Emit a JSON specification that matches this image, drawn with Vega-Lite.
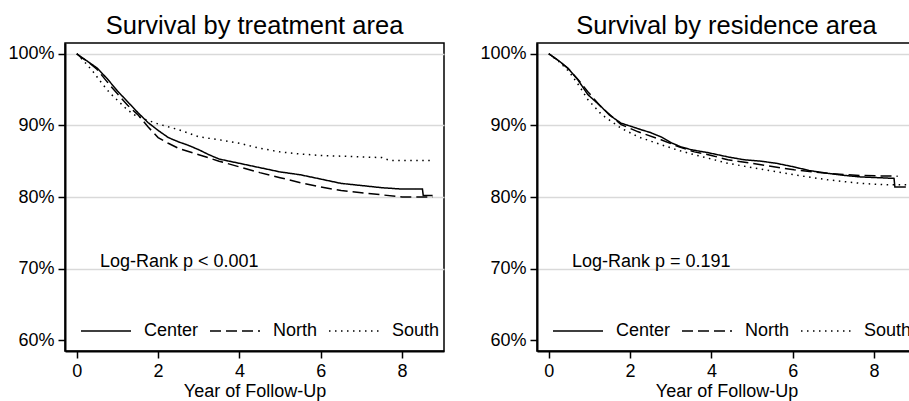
{
  "$schema": "https://vega.github.io/schema/vega-lite/v6.json",
  "padding": {"left": 7, "top": 12, "right": 0, "bottom": 0},
  "spacing": 34,
  "config": {
    "font": "Liberation Sans",
    "view": {"stroke": "black", "strokeWidth": 1.5},
    "axis": {
      "labelFontSize": 18, "titleFontSize": 18, "labelColor": "black", "titleColor": "black",
      "titleFontWeight": "normal", "domainColor": "black", "domainWidth": 2,
      "tickColor": "black", "tickWidth": 1.5, "tickSize": 7, "labelFont": "Liberation Sans", "titleFont": "Liberation Sans"
    },
    "title": {"fontSize": 25.5, "fontWeight": "normal", "color": "black", "font": "Liberation Sans", "offset": 4}
  },
  "datasets": {
    "treat": [
      {"t": 0, "s": 100, "g": "Center"}, {"t": 0.1, "s": 99.5, "g": "Center"}, {"t": 0.25, "s": 99.0, "g": "Center"}, {"t": 0.5, "s": 98.0, "g": "Center"}, {"t": 0.75, "s": 96.5, "g": "Center"}, {"t": 1.0, "s": 94.8, "g": "Center"}, {"t": 1.25, "s": 93.3, "g": "Center"}, {"t": 1.5, "s": 91.8, "g": "Center"}, {"t": 1.75, "s": 90.4, "g": "Center"}, {"t": 2.0, "s": 89.3, "g": "Center"}, {"t": 2.25, "s": 88.3, "g": "Center"}, {"t": 2.5, "s": 87.7, "g": "Center"}, {"t": 2.75, "s": 87.2, "g": "Center"}, {"t": 3.0, "s": 86.6, "g": "Center"}, {"t": 3.25, "s": 85.9, "g": "Center"}, {"t": 3.5, "s": 85.3, "g": "Center"}, {"t": 3.75, "s": 85.0, "g": "Center"}, {"t": 4.0, "s": 84.7, "g": "Center"}, {"t": 4.5, "s": 84.1, "g": "Center"}, {"t": 5.0, "s": 83.5, "g": "Center"}, {"t": 5.5, "s": 83.1, "g": "Center"}, {"t": 6.0, "s": 82.5, "g": "Center"}, {"t": 6.5, "s": 81.9, "g": "Center"}, {"t": 7.0, "s": 81.6, "g": "Center"}, {"t": 7.5, "s": 81.3, "g": "Center"}, {"t": 8.0, "s": 81.1, "g": "Center"}, {"t": 8.5, "s": 81.1, "g": "Center"}, {"t": 8.52, "s": 80.2, "g": "Center"}, {"t": 8.75, "s": 80.2, "g": "Center"},
      {"t": 0, "s": 100, "g": "North"}, {"t": 0.25, "s": 99.0, "g": "North"}, {"t": 0.5, "s": 97.8, "g": "North"}, {"t": 0.8, "s": 95.7, "g": "North"}, {"t": 1.0, "s": 94.4, "g": "North"}, {"t": 1.25, "s": 92.8, "g": "North"}, {"t": 1.5, "s": 91.5, "g": "North"}, {"t": 1.75, "s": 89.8, "g": "North"}, {"t": 2.0, "s": 88.3, "g": "North"}, {"t": 2.25, "s": 87.5, "g": "North"}, {"t": 2.5, "s": 86.8, "g": "North"}, {"t": 3.0, "s": 85.9, "g": "North"}, {"t": 3.5, "s": 85.0, "g": "North"}, {"t": 4.0, "s": 84.2, "g": "North"}, {"t": 4.5, "s": 83.4, "g": "North"}, {"t": 5.0, "s": 82.7, "g": "North"}, {"t": 5.5, "s": 82.0, "g": "North"}, {"t": 6.0, "s": 81.4, "g": "North"}, {"t": 6.5, "s": 80.9, "g": "North"}, {"t": 7.0, "s": 80.6, "g": "North"}, {"t": 7.5, "s": 80.3, "g": "North"}, {"t": 8.0, "s": 80.0, "g": "North"}, {"t": 8.75, "s": 80.0, "g": "North"},
      {"t": 0, "s": 100, "g": "South"}, {"t": 0.2, "s": 98.8, "g": "South"}, {"t": 0.4, "s": 97.5, "g": "South"}, {"t": 0.6, "s": 96.0, "g": "South"}, {"t": 0.8, "s": 94.6, "g": "South"}, {"t": 1.0, "s": 93.5, "g": "South"}, {"t": 1.2, "s": 92.4, "g": "South"}, {"t": 1.4, "s": 91.5, "g": "South"}, {"t": 1.7, "s": 90.8, "g": "South"}, {"t": 2.0, "s": 90.2, "g": "South"}, {"t": 2.5, "s": 89.4, "g": "South"}, {"t": 3.0, "s": 88.4, "g": "South"}, {"t": 3.5, "s": 88.0, "g": "South"}, {"t": 4.0, "s": 87.5, "g": "South"}, {"t": 4.5, "s": 86.8, "g": "South"}, {"t": 5.0, "s": 86.3, "g": "South"}, {"t": 5.5, "s": 86.0, "g": "South"}, {"t": 6.0, "s": 85.8, "g": "South"}, {"t": 6.5, "s": 85.7, "g": "South"}, {"t": 7.0, "s": 85.6, "g": "South"}, {"t": 7.5, "s": 85.5, "g": "South"}, {"t": 7.7, "s": 85.1, "g": "South"}, {"t": 8.75, "s": 85.1, "g": "South"}
    ],
    "resid": [
      {"t": 0, "s": 100, "g": "Center"}, {"t": 0.25, "s": 99.0, "g": "Center"}, {"t": 0.47, "s": 98.0, "g": "Center"}, {"t": 0.71, "s": 96.4, "g": "Center"}, {"t": 0.96, "s": 94.3, "g": "Center"}, {"t": 1.29, "s": 92.6, "g": "Center"}, {"t": 1.5, "s": 91.4, "g": "Center"}, {"t": 1.78, "s": 90.3, "g": "Center"}, {"t": 2.0, "s": 89.9, "g": "Center"}, {"t": 2.27, "s": 89.4, "g": "Center"}, {"t": 2.5, "s": 89.0, "g": "Center"}, {"t": 2.76, "s": 88.4, "g": "Center"}, {"t": 3.0, "s": 87.6, "g": "Center"}, {"t": 3.25, "s": 87.0, "g": "Center"}, {"t": 3.5, "s": 86.6, "g": "Center"}, {"t": 3.91, "s": 86.2, "g": "Center"}, {"t": 4.4, "s": 85.6, "g": "Center"}, {"t": 4.8, "s": 85.2, "g": "Center"}, {"t": 5.22, "s": 85.0, "g": "Center"}, {"t": 5.6, "s": 84.7, "g": "Center"}, {"t": 6.03, "s": 84.2, "g": "Center"}, {"t": 6.4, "s": 83.7, "g": "Center"}, {"t": 6.86, "s": 83.3, "g": "Center"}, {"t": 7.3, "s": 83.0, "g": "Center"}, {"t": 7.67, "s": 82.8, "g": "Center"}, {"t": 8.1, "s": 82.7, "g": "Center"}, {"t": 8.49, "s": 82.6, "g": "Center"}, {"t": 8.51, "s": 81.4, "g": "Center"}, {"t": 8.78, "s": 81.4, "g": "Center"},
      {"t": 0, "s": 100, "g": "North"}, {"t": 0.25, "s": 99.0, "g": "North"}, {"t": 0.5, "s": 97.8, "g": "North"}, {"t": 0.75, "s": 96.2, "g": "North"}, {"t": 0.96, "s": 94.7, "g": "North"}, {"t": 1.3, "s": 92.5, "g": "North"}, {"t": 1.78, "s": 90.1, "g": "North"}, {"t": 2.2, "s": 89.1, "g": "North"}, {"t": 2.76, "s": 88.0, "g": "North"}, {"t": 3.2, "s": 87.0, "g": "North"}, {"t": 3.58, "s": 86.3, "g": "North"}, {"t": 4.0, "s": 85.8, "g": "North"}, {"t": 4.4, "s": 85.2, "g": "North"}, {"t": 5.22, "s": 84.5, "g": "North"}, {"t": 6.03, "s": 83.8, "g": "North"}, {"t": 6.86, "s": 83.3, "g": "North"}, {"t": 7.67, "s": 83.0, "g": "North"}, {"t": 8.58, "s": 82.9, "g": "North"},
      {"t": 0, "s": 100, "g": "South"}, {"t": 0.25, "s": 98.9, "g": "South"}, {"t": 0.5, "s": 97.5, "g": "South"}, {"t": 0.75, "s": 95.5, "g": "South"}, {"t": 0.96, "s": 93.6, "g": "South"}, {"t": 1.3, "s": 91.5, "g": "South"}, {"t": 1.78, "s": 89.6, "g": "South"}, {"t": 2.2, "s": 88.4, "g": "South"}, {"t": 2.76, "s": 87.3, "g": "South"}, {"t": 3.2, "s": 86.5, "g": "South"}, {"t": 3.58, "s": 85.9, "g": "South"}, {"t": 4.0, "s": 85.3, "g": "South"}, {"t": 4.4, "s": 84.7, "g": "South"}, {"t": 5.22, "s": 83.9, "g": "South"}, {"t": 6.03, "s": 83.1, "g": "South"}, {"t": 6.86, "s": 82.4, "g": "South"}, {"t": 7.67, "s": 81.9, "g": "South"}, {"t": 8.3, "s": 81.7, "g": "South"}, {"t": 8.82, "s": 81.7, "g": "South"}
    ],
    "notes": [
      {"panel": "treat", "t": 0.57, "s": 70.2, "label": "Log-Rank p < 0.001"},
      {"panel": "resid", "t": 0.57, "s": 70.2, "label": "Log-Rank p = 0.191"}
    ]
  },
  "resolve": {"scale": {"strokeDash": "independent"}, "legend": {"strokeDash": "independent"}},
  "hconcat": [
    {
      "title": "Survival by treatment area",
      "width": 379, "height": 308,
      "layer": [
        {
          "data": {"name": "treat"},
          "mark": {"type": "line", "color": "black", "strokeWidth": 1.5, "clip": true},
          "encoding": {
            "x": {"field": "t", "type": "quantitative", "scale": {"domain": [-0.29, 9.03], "nice": false, "zero": false}, "axis": {"values": [0, 2, 4, 6, 8], "grid": false, "title": "Year of Follow-Up", "labelPadding": 4, "titlePadding": 2}},
            "y": {"field": "s", "type": "quantitative", "scale": {"domain": [58.5, 101.5], "nice": false, "zero": false}, "axis": {"values": [60, 70, 80, 90, 100], "labelExpr": "datum.value + '%'", "title": null, "labelPadding": 4, "grid": true, "gridColor": {"condition": {"test": "datum.value < 65", "value": "transparent"}, "value": "#d9d9d9"}, "gridWidth": 1.3}},
            "strokeDash": {"field": "g", "type": "nominal", "scale": {"domain": ["Center", "North", "South"], "range": [[1, 0], [11, 5], [1.5, 4.5]]},
              "legend": {"orient": "none", "legendX": 15, "legendY": 262, "direction": "horizontal", "title": null, "symbolType": "stroke", "symbolSize": 2500, "symbolStrokeWidth": 1.5, "symbolStrokeColor": "black", "labelFontSize": 18, "labelOffset": 12, "columnPadding": 8, "labelColor": "black", "labelFont": "Liberation Sans"}}
          }
        },
        {
          "data": {"name": "notes"},
          "transform": [{"filter": "datum.panel == 'treat'"}],
          "mark": {"type": "text", "align": "left", "baseline": "alphabetic", "fontSize": 18, "color": "black", "font": "Liberation Sans"},
          "encoding": {
            "x": {"field": "t", "type": "quantitative"},
            "y": {"field": "s", "type": "quantitative"},
            "text": {"field": "label"}
          }
        }
      ]
    },
    {
      "title": "Survival by residence area",
      "width": 379, "height": 308,
      "layer": [
        {
          "data": {"name": "resid"},
          "mark": {"type": "line", "color": "black", "strokeWidth": 1.5, "clip": true},
          "encoding": {
            "x": {"field": "t", "type": "quantitative", "scale": {"domain": [-0.29, 9.03], "nice": false, "zero": false}, "axis": {"values": [0, 2, 4, 6, 8], "grid": false, "title": "Year of Follow-Up", "labelPadding": 4, "titlePadding": 2}},
            "y": {"field": "s", "type": "quantitative", "scale": {"domain": [58.5, 101.5], "nice": false, "zero": false}, "axis": {"values": [60, 70, 80, 90, 100], "labelExpr": "datum.value + '%'", "title": null, "labelPadding": 4, "grid": true, "gridColor": {"condition": {"test": "datum.value < 65", "value": "transparent"}, "value": "#d9d9d9"}, "gridWidth": 1.3}},
            "strokeDash": {"field": "g", "type": "nominal", "scale": {"domain": ["Center", "North", "South"], "range": [[1, 0], [11, 5], [1.5, 4.5]]},
              "legend": {"orient": "none", "legendX": 15, "legendY": 262, "direction": "horizontal", "title": null, "symbolType": "stroke", "symbolSize": 2500, "symbolStrokeWidth": 1.5, "symbolStrokeColor": "black", "labelFontSize": 18, "labelOffset": 12, "columnPadding": 8, "labelColor": "black", "labelFont": "Liberation Sans"}}
          }
        },
        {
          "data": {"name": "notes"},
          "transform": [{"filter": "datum.panel == 'resid'"}],
          "mark": {"type": "text", "align": "left", "baseline": "alphabetic", "fontSize": 18, "color": "black", "font": "Liberation Sans"},
          "encoding": {
            "x": {"field": "t", "type": "quantitative"},
            "y": {"field": "s", "type": "quantitative"},
            "text": {"field": "label"}
          }
        }
      ]
    }
  ]
}
